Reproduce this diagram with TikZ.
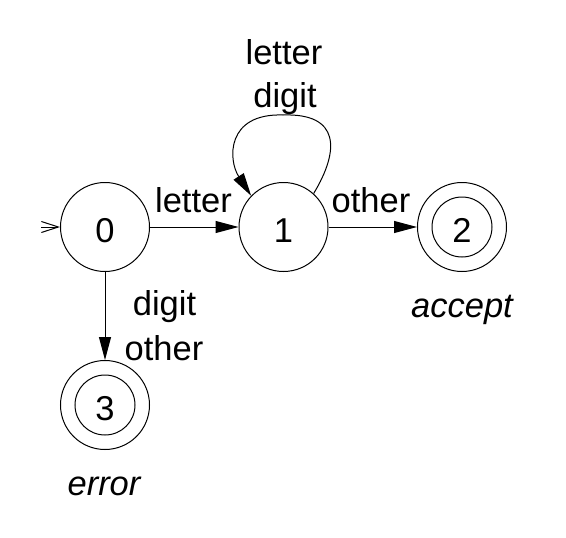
\documentclass[tikz,border=0pt]{standalone}
\usepackage{fontspec}
\setmainfont{Liberation Sans}
\usetikzlibrary{arrows.meta}
\begin{document}
\begin{tikzpicture}[x=1pt,y=-1pt,
  every node/.style={font=\fontsize{34.5}{40}\selectfont},
  state/.style={circle,draw,line width=1pt,minimum size=89pt,inner sep=0pt},
  innerstate/.style={circle,draw,line width=1pt,minimum size=60pt,inner sep=0pt},
  lbl/.style={anchor=base,inner sep=0pt},
  edge/.style={line width=1pt,-{Triangle[length=23pt,width=12pt]}},
  initarrow/.style={line width=1pt,-{Straight Barb[length=17pt,width=11pt,line width=1pt]}}]
\useasboundingbox (0,0) rectangle (566,538);
\node[state] (n0) at (105,227) {};
\node[state] (n1) at (283.5,227) {};
\node[state] (n2) at (462,227) {};
\node[innerstate] (n2i) at (462,227) {};
\node[state] (n3) at (105,405) {};
\node[innerstate] (n3i) at (105,405) {};
\node[lbl] (t0) at (105,242) {0};
\node[lbl] (t1) at (283.5,242) {1};
\node[lbl] (t2) at (462,242) {2};
\node[lbl] (t3) at (105,420) {3};
\coordinate (init) at (41,227);
\draw[initarrow] (init) -- (n0.west);
\draw[edge] (n0) -- (n1);
\draw[edge] (n1) -- (n2);
\draw[edge] (n0) -- (n3);
\draw[edge] (n1.48) .. controls (340,150) and (340,113) .. (283,115)
  .. controls (226,113) and (228,160) .. (n1.136);
\node[lbl] (l01) at (193.5,212) {letter};
\node[lbl] (l12) at (371,212) {other};
\node[lbl] (l03a) at (164.5,315) {digit};
\node[lbl] (l03b) at (164,360) {other};
\node[lbl] (l11a) at (284,64) {letter};
\node[lbl] (l11b) at (285,107) {digit};
\node[lbl,font=\fontsize{34.5}{40}\selectfont\itshape] (acc) at (462,317) {accept};
\node[lbl,font=\fontsize{34.5}{40}\selectfont\itshape] (err) at (104,495) {error};
\end{tikzpicture}
\end{document}
